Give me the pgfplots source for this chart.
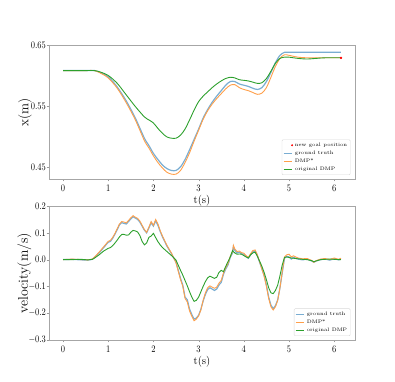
\documentclass[border=0pt]{standalone}
\usepackage{pgfplots}
\pgfplotsset{compat=1.18}
\definecolor{tabblue}{HTML}{1F77B4}
\definecolor{taborange}{HTML}{FF7F0E}
\definecolor{tabgreen}{HTML}{2CA02C}

\pgfplotstableread{
t gt dmpstar orig
0    0.608 0.608 0.608
0.5  0.608 0.608 0.608
0.7  0.608 0.608 0.608
0.85 0.604 0.603 0.605
1.0  0.598 0.596 0.600
1.2  0.581 0.579 0.587
1.4  0.558 0.555 0.568
1.6  0.530 0.527 0.549
1.8  0.497 0.493 0.532
1.9  0.485 0.481 0.527
2.0  0.472 0.468 0.522
2.1  0.462 0.457 0.513
2.2  0.453 0.448 0.505
2.3  0.447 0.441 0.499
2.4  0.444 0.438 0.497
2.5  0.444 0.438 0.497
2.6  0.450 0.444 0.502
2.7  0.462 0.457 0.512
2.8  0.478 0.473 0.527
2.9  0.495 0.492 0.543
3.0  0.512 0.510 0.557
3.1  0.530 0.528 0.566
3.2  0.544 0.542 0.573
3.3  0.556 0.553 0.580
3.4  0.566 0.562 0.586
3.5  0.575 0.570 0.591
3.6  0.584 0.578 0.595
3.7  0.590 0.584 0.597
3.8  0.590 0.585 0.596
3.9  0.586 0.580 0.593
4.0  0.584 0.577 0.592
4.1  0.582 0.575 0.591
4.2  0.579 0.572 0.589
4.3  0.577 0.569 0.587
4.4  0.580 0.571 0.588
4.5  0.590 0.580 0.595
4.6  0.605 0.597 0.607
4.7  0.621 0.615 0.620
4.8  0.633 0.628 0.628
4.9  0.638 0.634 0.630
5.0  0.638 0.633 0.630
5.2  0.638 0.630 0.628
5.4  0.638 0.629 0.627
5.6  0.638 0.629 0.628
5.8  0.638 0.629 0.629
6.15 0.638 0.629 0.629
}\postable

\pgfplotstableread{
t gt dmpstar orig
0    0.000  0.000  0.000
0.2  0.001  0.002  0.000
0.4  -0.001 0.000  0.001
0.55 -0.002 -0.001 -0.001
0.65 0.001  0.002  0.001
0.7  0.008  0.010  0.006
0.8  0.025  0.028  0.018
0.9  0.045  0.048  0.032
1.0  0.065  0.068  0.042
1.05 0.068  0.072  0.045
1.1  0.080  0.083  0.052
1.15 0.095  0.098  0.062
1.2  0.112  0.116  0.073
1.25 0.130  0.133  0.085
1.3  0.138  0.142  0.094
1.35 0.135  0.140  0.094
1.4  0.133  0.137  0.091
1.45 0.142  0.146  0.092
1.5  0.152  0.156  0.102
1.55 0.160  0.164  0.109
1.6  0.155  0.158  0.107
1.65 0.150  0.154  0.103
1.7  0.140  0.144  0.090
1.75 0.125  0.128  0.068
1.8  0.110  0.112  0.055
1.85 0.100  0.102  0.062
1.9  0.118  0.121  0.083
1.95 0.138  0.142  0.088
2.0  0.125  0.128  0.098
2.05 0.145  0.150  0.082
2.1  0.128  0.133  0.067
2.15 0.105  0.108  0.055
2.2  0.085  0.088  0.045
2.3  0.050  0.053  0.030
2.4  0.022  0.024  0.015
2.5  -0.010 -0.012 -0.002
2.6  -0.070 -0.075 -0.040
2.65 -0.095 -0.100 -0.058
2.7  -0.140 -0.145 -0.078
2.75 -0.150 -0.158 -0.098
2.8  -0.185 -0.192 -0.120
2.85 -0.205 -0.212 -0.140
2.9  -0.222 -0.228 -0.156
2.95 -0.218 -0.222 -0.152
3.0  -0.208 -0.210 -0.140
3.05 -0.185 -0.188 -0.120
3.1  -0.155 -0.152 -0.100
3.15 -0.130 -0.124 -0.082
3.2  -0.112 -0.105 -0.068
3.25 -0.105 -0.098 -0.062
3.3  -0.110 -0.103 -0.066
3.35 -0.115 -0.107 -0.070
3.4  -0.110 -0.103 -0.066
3.45 -0.095 -0.088 -0.048
3.5  -0.085 -0.078 -0.040
3.55 -0.055 -0.050 -0.045
3.6  -0.035 -0.030 -0.025
3.65 -0.020 -0.015 -0.008
3.7  0.008  0.012  0.010
3.75 0.025  0.030  0.034
3.77 0.048  0.053  0.030
3.8  0.035  0.040  0.025
3.85 0.025  0.030  0.020
3.9  0.028  0.032  0.021
3.95 0.022  0.026  0.020
4.0  0.020  0.024  0.015
4.05 0.012  0.015  0.010
4.1  0.005  0.008  0.006
4.15 0.018  0.022  0.018
4.2  0.030  0.034  0.025
4.25 0.032  0.036  0.028
4.3  0.015  0.018  0.012
4.35 -0.010 -0.008 -0.006
4.4  -0.035 -0.035 -0.025
4.45 -0.060 -0.062 -0.048
4.5  -0.095 -0.100 -0.075
4.55 -0.140 -0.145 -0.105
4.6  -0.170 -0.176 -0.124
4.65 -0.183 -0.188 -0.127
4.7  -0.172 -0.176 -0.115
4.75 -0.150 -0.152 -0.095
4.8  -0.105 -0.105 -0.060
4.85 -0.050 -0.045 -0.020
4.9  0.005  0.010  0.008
4.95 0.012  0.018  0.010
5.0  0.010  0.020  0.008
5.05 0.002  0.010  0.006
5.1  0.008  0.014  0.005
5.2  0.002  0.006  0.003
5.3  -0.001 0.003  0.001
5.4  0.002  0.004  0.000
5.5  -0.005 -0.003 -0.004
5.55 -0.010 -0.010 -0.008
5.6  -0.005 -0.004 -0.005
5.7  0.000  0.002  0.000
5.8  0.002  0.004  0.001
5.9  -0.002 0.000  0.002
6.0  0.003  0.006  0.001
6.1  -0.001 0.001  0.000
6.15 0.003  0.005  0.000
}\veltable

\pgfplotsset{
  panel/.style={
    scale only axis, width=306bp, height=134bp,
    xmin=-0.31, xmax=6.46, xtick={0,...,6},
    axis line style={gray!70}, major tick style={gray!80},
    major tick length=2.5pt,
    tick align=outside, xtick pos=bottom, ytick pos=left,
    tick label style={font=\normalsize, xscale=0.85},
    yticklabel style={inner xsep=0.5pt},
    xlabel={t(s)}, xlabel style={font=\fontsize{11}{13}\selectfont, yshift=3pt},
    legend style={font=\tiny, at={(0.985,0.03)}, anchor=south east,
      draw=gray!30, rounded corners=1pt, inner sep=1pt,
      row sep=-1pt},
    legend cell align=left,
  },
  shortline/.style={legend image code/.code={\draw[##1] (0cm,0cm) -- (0.3cm,0cm);}},
  gt/.style={tabblue!60, line width=1.2pt, shortline},
  ds/.style={taborange!75, line width=0.9pt, shortline},
  og/.style={tabgreen, line width=0.9pt, shortline},
}

\begin{document}
\begin{tikzpicture}
\path[use as bounding box] (0,0) rectangle (395bp,382bp);

\begin{axis}[panel, at={(49bp,203bp)}, anchor=south west,
  ymin=0.43, ymax=0.65, ytick={0.45,0.55,0.65},
  yticklabel style={/pgf/number format/.cd, fixed, precision=2, fixed zerofill},
  ylabel={x(m)}, ylabel style={font=\fontsize{13.5}{16}\selectfont,
    at={(axis description cs:-0.078,0.5)}, anchor=center}]
  \addlegendimage{only marks, mark=*, mark size=0.8pt, red}
  \addlegendentry{new goal position}
  \addplot[gt, smooth] table[x=t, y=gt] {\postable};
  \addlegendentry{ground truth}
  \addplot[ds, smooth] table[x=t, y=dmpstar] {\postable};
  \addlegendentry{DMP*}
  \addplot[og, smooth] table[x=t, y=orig] {\postable};
  \addlegendentry{original DMP}
  \addplot[only marks, mark=*, mark size=1pt, red, forget plot]
    coordinates {(6.15,0.629)};
\end{axis}

\begin{axis}[panel, at={(49bp,42bp)}, anchor=south west,
  ymin=-0.3, ymax=0.2, ytick={-0.3,-0.2,...,0.2},
  yticklabel style={/pgf/number format/.cd, fixed, precision=1, fixed zerofill},
  ylabel={velocity(m/s)}, ylabel style={font=\fontsize{14}{16}\selectfont,
    at={(axis description cs:-0.08,0.5)}, anchor=center}]
  \addplot[gt] table[x=t, y=gt] {\veltable};
  \addlegendentry{ground truth}
  \addplot[ds] table[x=t, y=dmpstar] {\veltable};
  \addlegendentry{DMP*}
  \addplot[og] table[x=t, y=orig] {\veltable};
  \addlegendentry{original DMP}
\end{axis}
\end{tikzpicture}
\end{document}
